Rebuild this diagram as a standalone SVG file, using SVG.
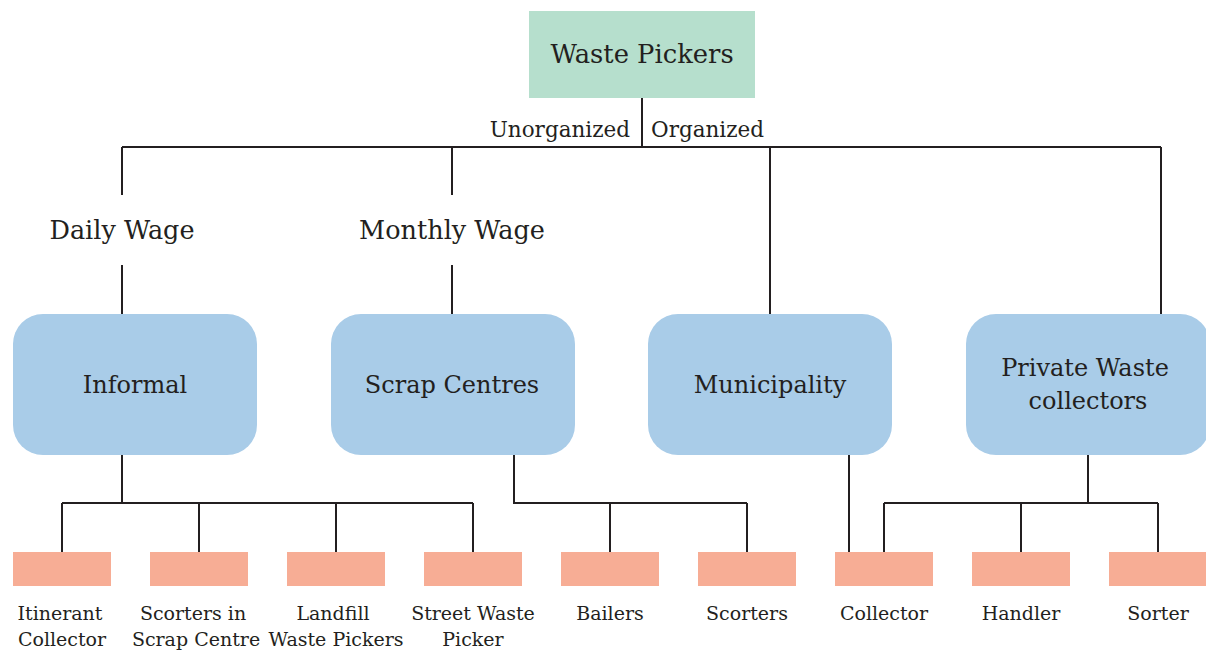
<svg xmlns="http://www.w3.org/2000/svg" width="1206" height="650" viewBox="0 0 1206 650">
<style>
text{font-family:"DejaVu Serif","Liberation Serif",serif;fill:#231f20;text-anchor:middle}
.lg{font-size:25.8px}
.wg{font-size:25.5px}
.md{font-size:24px}
.el{font-size:21.5px}
.sm{font-size:19px}
.blue{fill:#a9cce8}
.sal{fill:#f7ad95}
.ln{stroke:#231f20;stroke-width:2;fill:none}
</style>
<rect width="1206" height="650" fill="#fff"/>
<g id="connectors">
<path class="ln" d="M642 98V147M122 147H1161M122 147V195M452 147V195M770 147V314M1161 147V314"/>
<path class="ln" d="M122 265V314M452 265V314"/>
<path class="ln" d="M122 455V503M62 503H473M62 503V552M199 503V552M336 503V552M473 503V552"/>
<path class="ln" d="M514 455V503H747M610 503V552M747 503V552"/>
<path class="ln" d="M849 455V552"/>
<path class="ln" d="M1088 455V503M884 503H1158M884 503V552M1021 503V552M1158 503V552"/>
</g>
<g id="waste-pickers">
<rect x="529" y="11" width="226" height="87" fill="#b6dfcd"/>
<text class="lg" x="642" y="63">Waste Pickers</text>
</g>
<g id="edge-labels">
<text class="el" x="630" y="137" style="text-anchor:end">Unorganized</text>
<text class="el" x="651" y="137" style="text-anchor:start">Organized</text>
</g>
<g id="daily-wage"><text class="wg" x="122" y="239">Daily Wage</text></g>
<g id="monthly-wage"><text class="wg" x="452" y="239">Monthly Wage</text></g>
<g id="informal"><rect class="blue" x="13" y="314" width="244" height="141" rx="30"/><text class="md" x="135" y="393">Informal</text></g>
<g id="scrap-centres"><rect class="blue" x="331" y="314" width="244" height="141" rx="30"/><text class="md" x="452" y="393">Scrap Centres</text></g>
<g id="municipality"><rect class="blue" x="648" y="314" width="244" height="141" rx="30"/><text class="md" x="770" y="393">Municipality</text></g>
<g id="private"><rect class="blue" x="966" y="314" width="244" height="141" rx="30"/><text class="md" x="1085" y="376">Private Waste</text><text class="md" x="1088" y="409">collectors</text></g>
<g id="itinerant"><rect class="sal" x="13" y="552" width="98" height="34"/><text class="sm" x="60" y="620">Itinerant</text><text class="sm" x="62" y="646">Collector</text></g>
<g id="scorters-scrap"><rect class="sal" x="150" y="552" width="98" height="34"/><text class="sm" x="193" y="620">Scorters in</text><text class="sm" x="196" y="646">Scrap Centre</text></g>
<g id="landfill"><rect class="sal" x="287" y="552" width="98" height="34"/><text class="sm" x="333" y="620">Landfill</text><text class="sm" x="336" y="646">Waste Pickers</text></g>
<g id="street"><rect class="sal" x="424" y="552" width="98" height="34"/><text class="sm" x="473" y="620">Street Waste</text><text class="sm" x="473" y="646">Picker</text></g>
<g id="bailers"><rect class="sal" x="561" y="552" width="98" height="34"/><text class="sm" x="610" y="620">Bailers</text></g>
<g id="scorters"><rect class="sal" x="698" y="552" width="98" height="34"/><text class="sm" x="747" y="620">Scorters</text></g>
<g id="collector"><rect class="sal" x="835" y="552" width="98" height="34"/><text class="sm" x="884" y="620">Collector</text></g>
<g id="handler"><rect class="sal" x="972" y="552" width="98" height="34"/><text class="sm" x="1021" y="620">Handler</text></g>
<g id="sorter"><rect class="sal" x="1109" y="552" width="98" height="34"/><text class="sm" x="1158" y="620">Sorter</text></g>
</svg>
